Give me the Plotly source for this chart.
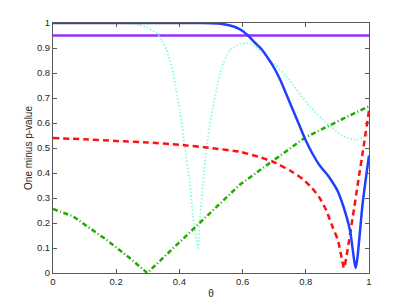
import plotly.graph_objects as go

# Blue solid
blue_theta = [0, 0.45, 0.5, 0.53, 0.56, 0.58, 0.6, 0.617, 0.64, 0.66, 0.68, 0.7, 0.72, 0.74,
              0.76, 0.78, 0.8, 0.82, 0.844, 0.87, 0.886, 0.9, 0.918, 0.94, 0.958, 0.98, 1.0]
blue_val = [1, 1, 0.999, 0.997, 0.99, 0.982, 0.968, 0.95, 0.92, 0.895, 0.86, 0.82, 0.77, 0.71,
            0.65, 0.59, 0.53, 0.48, 0.43, 0.39, 0.36, 0.33, 0.27, 0.17, 0.02, 0.28, 0.47]

# Cyan dotted
cyan_theta = [0, 0.2, 0.25, 0.274, 0.3, 0.327, 0.345, 0.359, 0.37, 0.38, 0.39, 0.401, 0.417,
              0.433, 0.443, 0.452, 0.459, 0.464, 0.475, 0.485, 0.496, 0.506, 0.52, 0.533,
              0.559, 0.591, 0.612, 0.64, 0.675, 0.738, 0.812, 0.865, 0.918, 0.96, 1.0]
cyan_val = [1, 1, 0.998, 0.993, 0.98, 0.96, 0.93, 0.893, 0.85, 0.8, 0.73, 0.653, 0.506,
            0.36, 0.227, 0.15, 0.1, 0.2, 0.36, 0.493, 0.59, 0.66, 0.75, 0.82,
            0.89, 0.915, 0.92, 0.905, 0.867, 0.787, 0.667, 0.6, 0.547, 0.533, 0.555]

# Red dashed
red_theta = [0, 0.1, 0.2, 0.3, 0.4, 0.5, 0.591, 0.65, 0.696, 0.75, 0.791, 0.82, 0.844, 0.865,
             0.886, 0.902, 0.915, 0.921, 0.949, 0.965, 0.981, 1.0]
red_val = [0.54, 0.535, 0.528, 0.522, 0.513, 0.5, 0.485, 0.465, 0.445, 0.41, 0.375, 0.34, 0.3,
           0.25, 0.18, 0.13, 0.05, 0.02, 0.227, 0.36, 0.49, 0.65]

# Green dash-dot
green_theta = [0, 0.063, 0.169, 0.243, 0.298, 0.4, 0.464, 0.591, 0.718, 0.797, 0.9, 1.0]
green_val = [0.256, 0.227, 0.133, 0.06, 0.0, 0.121, 0.2, 0.353, 0.467, 0.541, 0.606, 0.667]

# Purple threshold
purple_theta = [0, 1]
purple_val = [0.95, 0.95]

x_ticks = [0, 0.2, 0.4, 0.6, 0.8, 1]
x_labels = ["0", "0.2", "0.4", "0.6", "0.8", "1"]
y_ticks = [0, 0.1, 0.2, 0.3, 0.4, 0.5, 0.6, 0.7, 0.8, 0.9, 1]
y_labels = ["0", "0.1", "0.2", "0.3", "0.4", "0.5", "0.6", "0.7", "0.8", "0.9", "1"]

fig = go.Figure()
fig.add_trace(go.Scatter(x=purple_theta, y=purple_val, mode="lines",
                         line=dict(color="#9a2cff", width=2.5)))
fig.add_trace(go.Scatter(x=cyan_theta, y=cyan_val, mode="lines",
                         line=dict(color="#80ffd4", width=1.8, dash="1.5px,2px",
                                   shape="spline", smoothing=0.6)))
fig.add_trace(go.Scatter(x=green_theta, y=green_val, mode="lines",
                         line=dict(color="#22aa00", width=2.5, dash="5px,2.5px,1px,2.5px")))
fig.add_trace(go.Scatter(x=red_theta, y=red_val, mode="lines",
                         line=dict(color="#ff1010", width=2.5, dash="6px,4px",
                                   shape="spline", smoothing=0.5)))
fig.add_trace(go.Scatter(x=blue_theta, y=blue_val, mode="lines",
                         line=dict(color="#2040ff", width=2.5, shape="spline", smoothing=0.6)))

axis_common = dict(showgrid=False, zeroline=False, showline=True, linecolor="#5a5a5a",
                   linewidth=1, mirror="ticks", ticks="inside", ticklen=4, automargin=False,
                   tickcolor="#5a5a5a", tickfont=dict(size=9.5, color="#262626"))
fig.update_xaxes(range=[0, 1], tickvals=x_ticks, ticktext=x_labels,
                 title=dict(text="θ", font=dict(size=10, color="#262626"), standoff=3),
                 **axis_common)
fig.update_yaxes(range=[0, 1], tickvals=y_ticks, ticktext=y_labels,
                 title=dict(text="One minus p-value", font=dict(size=10, color="#262626"), standoff=2),
                 **axis_common)
fig.update_layout(width=399, height=299, showlegend=False,
                  margin=dict(l=45, r=38, t=15, b=34, pad=0),
                  plot_bgcolor="white", paper_bgcolor="white",
                  font=dict(family="Liberation Sans, Arial, sans-serif"))
fig.write_html("out.html")
